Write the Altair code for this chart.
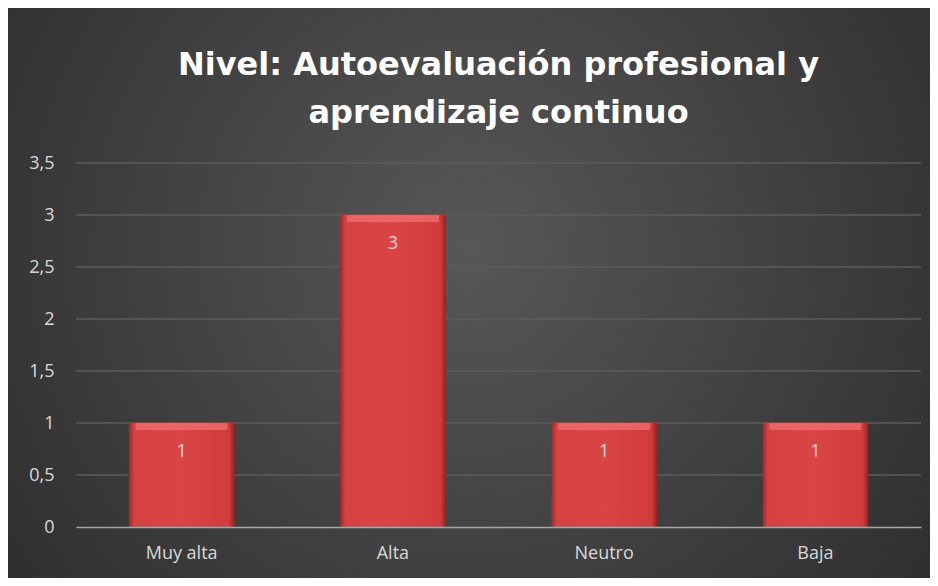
import altair as alt
import pandas as pd

categories = ["Muy alta", "Alta", "Neutro", "Baja"]
values = [1, 3, 1, 1]
y_ticks = [0, 0.5, 1, 1.5, 2, 2.5, 3, 3.5]
title_lines = ["Nivel: Autoevaluación profesional y", "aprendizaje continuo"]

df = pd.DataFrame({"cat": categories, "val": values})
grid_df = pd.DataFrame({"t": y_ticks})

W, H = 845, 364
PL, PT, PR, PB = 68, 155, 9, 51

bg = alt.Chart(df).mark_rect(
    clip=False,
    fill={
        "gradient": "radial",
        "x1": 0.5, "y1": 0.45, "x2": 0.5, "y2": 0.45,
        "r1": 0, "r2": 0.75,
        "stops": [
            {"offset": 0, "color": "#575757"},
            {"offset": 1, "color": "#262626"},
        ],
    },
).encode(
    x=alt.value(-PL), x2=alt.value(W + PR),
    y=alt.value(-PT), y2=alt.value(H + PB),
)

yscale = alt.Scale(domain=[0, 3.5], nice=False)

grid = alt.Chart(grid_df).transform_filter("datum.t > 0").mark_rule(
    color="#5c5c5c", strokeWidth=1.3
).encode(
    y=alt.Y("t:Q", scale=yscale, title=None,
            axis=alt.Axis(values=y_ticks, labelFontSize=18, labelFont="Open Sans",
                          labelColor="#d9d9d9", labelPadding=22, ticks=False,
                          domain=False, grid=False, zindex=1, format="~g",
                          labelExpr="replace(datum.label, '.', ',')")),
    x=alt.value(0), x2=alt.value(W),
)

x_enc = alt.X("cat:N", sort=categories, title=None,
              scale=alt.Scale(paddingInner=0.5, paddingOuter=0.25),
              axis=alt.Axis(labelAngle=0, labelFontSize=18, labelFont="Open Sans",
                            labelColor="#d9d9d9", labelPadding=17, ticks=False,
                            domainColor="#a6a6a6", domainWidth=1.5, grid=False,
                            zindex=1))

bars = alt.Chart(df).mark_bar(
    fill={
        "gradient": "linear",
        "x1": 0, "y1": 0, "x2": 1, "y2": 0,
        "stops": [
            {"offset": 0, "color": "#9e2626"},
            {"offset": 0.05, "color": "#d64242"},
            {"offset": 0.5, "color": "#d94545"},
            {"offset": 0.95, "color": "#d03b3b"},
            {"offset": 1, "color": "#962222"},
        ],
    },
).encode(x=x_enc, y=alt.Y("val:Q", scale=yscale, title=None))

bevel = alt.Chart(df).mark_tick(
    color="#f07070", thickness=7, opacity=0.75, yOffset=3.5, size=92
).encode(x=alt.X("cat:N", sort=categories), y="val:Q")

labels = alt.Chart(df).mark_text(
    baseline="middle", dy=29, fontSize=18, font="Open Sans", color="#f4d2d2"
).encode(x=alt.X("cat:N", sort=categories), y="val:Q", text="val:Q")

chart = alt.layer(bg, grid, bars, bevel, labels).properties(
    width=W, height=H,
    autosize=alt.AutoSizeParams(type="none"),
    padding={"left": PL, "top": PT, "right": PR, "bottom": PB},
    background="#2c2c2c",
    title=alt.TitleParams(
        text=title_lines, fontSize=32, font="DejaVu Sans", fontWeight="bold",
        color="#ffffff", lineHeight=48, anchor="middle", offset=-122,
        zindex=1,
    ),
).configure_view(stroke=None)

chart.save("out.html", embed_options={"renderer": "svg", "actions": False})
